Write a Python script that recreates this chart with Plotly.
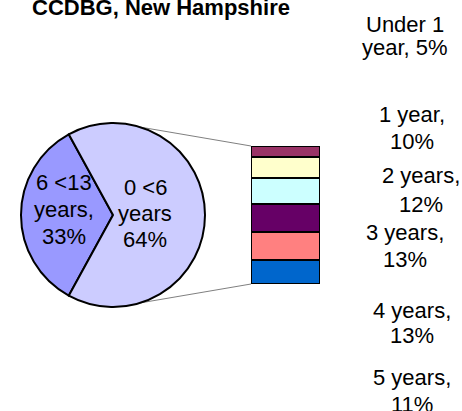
import math
import plotly.graph_objects as go

# ---------------- data ----------------
title_text = "CCDBG, New Hampshire"

pie_labels = ["6 <13 years", "0 <6 years"]
pie_values = [33, 64]
pie_separators = [", ", " "]
pie_colors = ["#9999FF", "#CCCCFF"]

bar_categories = ["Under 1 year", "1 year", "2 years", "3 years", "4 years", "5 years"]
bar_values = [5, 10, 12, 13, 13, 11]
bar_colors = ["#993366", "#FFFFCC", "#CCFFFF", "#660066", "#FF8080", "#0066CC"]

# ---------------- layout constants ----------------
W, H = 462, 411
FONT = "Arial, Liberation Sans, sans-serif"
FS = 22

def px_x(x):
    return x / W

def px_y(y):
    return 1 - y / H

# pie geometry (pixels)
pie_cx, pie_cy, pie_r = 113, 215, 92
# bar geometry (pixels)
bar_left, bar_right, bar_top, bar_bottom = 251, 320, 146, 284


def wrap(text, width):
    words = text.split(" ")
    lines, cur = [], ""
    for w in words:
        cand = w if not cur else cur + " " + w
        if len(cand) > width and cur:
            lines.append(cur)
            cur = w
        else:
            cur = cand
    lines.append(cur)
    return lines


fig = go.Figure()

# pie
fig.add_trace(go.Pie(
    labels=pie_labels, values=pie_values, sort=False, direction="clockwise",
    rotation=270 - 180 * pie_values[0] / sum(pie_values),
    marker=dict(colors=pie_colors, line=dict(color="black", width=2)),
    textinfo="none", hoverinfo="label+value", showlegend=False,
    domain=dict(x=[px_x(pie_cx - pie_r), px_x(pie_cx + pie_r)],
                y=[px_y(pie_cy + pie_r), px_y(pie_cy - pie_r)]),
))

# stacked bar (bottom = last category)
for cat, val, col in zip(reversed(bar_categories), reversed(bar_values), reversed(bar_colors)):
    fig.add_trace(go.Bar(
        x=["0 <6"], y=[val], name=cat, marker=dict(color=col, line=dict(color="black", width=2)),
        showlegend=False, hovertemplate=f"{cat}: %{{y}}%<extra></extra>",
    ))

annotations = []

def add_lines(lines, xc, ys, bold=False):
    for ln, yy in zip(lines, ys):
        t = f"<b>{ln}</b>" if bold else ln
        annotations.append(dict(
            text=t, x=px_x(xc), y=px_y(yy), xref="paper", yref="paper",
            xanchor="center", yanchor="middle", showarrow=False,
            font=dict(family=FONT, size=FS, color="black"),
        ))

# title
add_lines([title_text], 160.5, [7.5], bold=True)

# pie labels
pie_label_pos = [(63.5, [182.5, 209.5, 236.5]), (145, [187.5, 213.5, 239.5])]
for lab, val, sep, (xc, ys) in zip(pie_labels, pie_values, pie_separators, pie_label_pos):
    txt = f"{lab}{sep}{val}%"
    add_lines(wrap(txt, 6), xc, ys)

# bar labels
bar_label_pos = [
    (404.5, [24, 47.5]),
    (411.5, [114, 141]),
    (421, [176, 204.5]),
    (404.5, [232.5, 259.5]),
    (411.5, [310.5, 335]),
    (411.5, [377.5, 404.5]),
]
for cat, val, (xc, ys) in zip(bar_categories, bar_values, bar_label_pos):
    txt = f"{cat}, {val}%"
    add_lines(wrap(txt, 8), xc, ys)

# connector lines from pie edge to bar corners
ang = math.radians(73)
shapes = []
for sgn, by in [(-1, bar_top), (1, bar_bottom)]:
    x0 = pie_cx + pie_r * math.cos(ang)
    y0 = pie_cy + sgn * pie_r * math.sin(ang)
    shapes.append(dict(type="line", xref="paper", yref="paper",
                       x0=px_x(x0), y0=px_y(y0), x1=px_x(bar_left), y1=px_y(by),
                       line=dict(color="#808080", width=1), layer="below"))

fig.update_layout(
    width=W, height=H, margin=dict(l=0, r=0, t=0, b=0),
    paper_bgcolor="white", plot_bgcolor="rgba(0,0,0,0)",
    barmode="stack", bargap=0,
    xaxis=dict(domain=[px_x(bar_left), px_x(bar_right)], visible=False, fixedrange=True),
    yaxis=dict(domain=[px_y(bar_bottom), px_y(bar_top)], range=[0, sum(bar_values)],
               visible=False, fixedrange=True),
    annotations=annotations, shapes=shapes,
    font=dict(family=FONT),
)

fig.write_html(
    "out.html",
    config={"displayModeBar": False},
    post_script="document.body.style.margin='0';document.body.style.overflow='hidden';",
)
